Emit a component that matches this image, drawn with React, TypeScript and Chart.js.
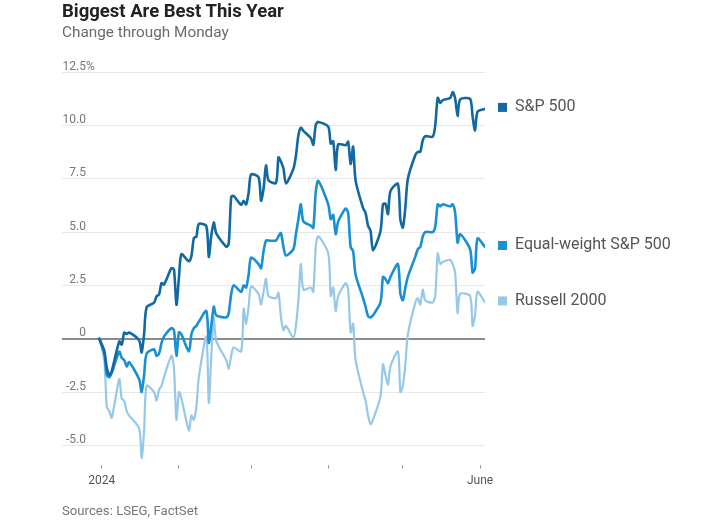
import { useEffect, useRef } from 'react';
import { Chart, registerables } from 'chart.js';

Chart.register(...registerables);

// ---- Data (percent change since year-end 2023) ----
const tradingDates = [
  '2023-12-31',
  '2024-01-02','2024-01-03','2024-01-04','2024-01-05','2024-01-08','2024-01-09','2024-01-10','2024-01-11','2024-01-12','2024-01-16','2024-01-17','2024-01-18','2024-01-19','2024-01-22','2024-01-23','2024-01-24','2024-01-25','2024-01-26','2024-01-29','2024-01-30','2024-01-31',
  '2024-02-01','2024-02-02','2024-02-05','2024-02-06','2024-02-07','2024-02-08','2024-02-09','2024-02-12','2024-02-13','2024-02-14','2024-02-15','2024-02-16','2024-02-20','2024-02-21','2024-02-22','2024-02-23','2024-02-26','2024-02-27','2024-02-28','2024-02-29',
  '2024-03-01','2024-03-04','2024-03-05','2024-03-06','2024-03-07','2024-03-08','2024-03-11','2024-03-12','2024-03-13','2024-03-14','2024-03-15','2024-03-18','2024-03-19','2024-03-20','2024-03-21','2024-03-22','2024-03-25','2024-03-26','2024-03-27','2024-03-28',
  '2024-04-01','2024-04-02','2024-04-03','2024-04-04','2024-04-05','2024-04-08','2024-04-09','2024-04-10','2024-04-11','2024-04-12','2024-04-15','2024-04-16','2024-04-17','2024-04-18','2024-04-19','2024-04-22','2024-04-23','2024-04-24','2024-04-25','2024-04-26','2024-04-29','2024-04-30',
  '2024-05-01','2024-05-02','2024-05-03','2024-05-06','2024-05-07','2024-05-08','2024-05-09','2024-05-10','2024-05-13','2024-05-14','2024-05-15','2024-05-16','2024-05-17','2024-05-20','2024-05-21','2024-05-22','2024-05-23','2024-05-24','2024-05-28','2024-05-29','2024-05-30','2024-05-31',
  '2024-06-03',
];

const sp500 = [
  0,
  -0.57,-1.36,-1.70,-1.52,-0.13,-0.28,0.29,0.22,0.29,-0.08,-0.64,0.23,1.47,1.69,1.99,2.07,2.61,2.54,3.31,3.25,1.59,
  2.86,3.96,3.63,3.87,4.72,4.78,5.38,5.28,3.84,4.84,5.45,4.94,4.31,4.44,6.65,6.69,6.28,6.46,6.29,6.84,
  7.70,7.57,6.47,7.02,8.12,7.42,7.30,8.50,8.29,7.98,7.28,7.96,8.57,9.53,9.89,9.74,9.40,9.09,10.03,10.16,
  9.94,9.14,9.26,7.91,9.11,9.07,9.23,8.19,9.00,7.41,6.12,5.90,5.29,5.06,4.14,5.05,6.30,6.33,5.84,6.92,7.26,5.57,
  5.21,6.17,7.50,8.61,8.76,8.76,9.31,9.49,9.47,10.00,11.29,11.05,11.18,11.28,11.56,11.26,10.44,11.21,11.24,10.42,9.76,10.64,
  10.77,
];

const equalWeight = [
  0,
  -0.7,-1.7,-1.8,-1.6,-0.6,-0.9,-1.0,-1.3,-1.1,-1.9,-2.5,-1.7,-0.7,-0.5,-0.8,-0.7,-0.2,0.1,0.5,0.4,-0.8,
  0.3,0.2,-0.6,0.2,0.5,0.6,0.8,1.3,-0.2,0.6,1.5,1.1,1.0,1.2,2.1,2.5,2.2,2.5,2.4,3.0,
  3.8,3.5,3.3,4.1,4.6,4.6,4.6,4.8,4.95,4.3,3.9,4.2,4.9,5.6,6.3,5.5,5.3,5.2,6.9,7.4,
  6.3,5.6,5.8,4.9,5.5,6.1,5.9,4.3,4.1,3.0,1.9,1.5,1.05,1.0,1.1,1.7,2.9,2.8,2.6,2.9,3.5,2.1,
  1.8,2.4,2.9,3.85,4.2,4.3,4.8,5.0,5.0,5.25,6.3,6.2,6.3,6.2,6.3,5.9,4.5,4.9,4.2,3.1,3.3,4.7,
  4.3,
];

const russell2000 = [
  0,
  -1.0,-3.2,-3.4,-3.7,-1.9,-2.8,-2.9,-3.4,-3.6,-4.2,-5.6,-4.3,-2.2,-2.5,-2.9,-2.4,-2.2,-1.8,-0.8,-1.4,-3.8,
  -2.5,-2.8,-4.3,-3.6,-3.8,-3.2,-1.8,0.1,-3.0,-0.8,1.0,-0.1,-1.0,-1.4,-0.8,-0.4,-0.6,1.4,0.7,1.5,
  2.45,2.1,1.6,2.2,2.8,2.0,1.9,2.15,1.0,0.4,0.6,0.05,0.6,1.8,3.5,2.3,2.4,2.2,4.3,4.8,
  4.0,2.0,2.4,1.3,2.0,2.6,2.3,0.3,0.7,-1.0,-2.5,-2.9,-3.6,-4.0,-3.8,-2.7,-1.2,-1.7,-2.15,-1.3,-0.6,-2.5,
  -2.2,-1.2,0.2,1.7,1.9,1.6,2.3,1.8,1.7,2.0,4.0,3.5,3.6,3.7,3.5,3.1,1.2,2.1,2.0,0.6,1.1,2.2,
  1.7,
];

const seriesNames = ['S&P 500', 'Equal-weight S&P 500', 'Russell 2000'];
const seriesValues = [sp500, equalWeight, russell2000];
const seriesColors = ['#1268a3', '#1a90d4', '#96c8ea'];

const yTickValues = [-5, -2.5, 0, 2.5, 5, 7.5, 10, 12.5];
const xTickDates = ['2024-01-01', '2024-02-01', '2024-03-01', '2024-04-01', '2024-05-01', '2024-06-01'];
const xTickLabels = ['2024', '', '', '', '', 'June'];

const FONT = 'Roboto, "Noto Sans", sans-serif';

function dayOf(date: string): number {
  const [y, m, d] = date.split('-').map(Number);
  return (Date.UTC(y, m - 1, d) - Date.UTC(2024, 0, 1)) / 86400000;
}

function fmtY(v: number): string {
  return v === 0 ? '0' : v.toFixed(1);
}

const yLabelPlugin = {
  id: 'yLabels',
  afterDraw(chart: any) {
    const { ctx, scales } = chart;
    const y = scales.y;
    ctx.save();
    ctx.font = `12px ${FONT}`;
    ctx.fillStyle = '#777';
    ctx.textAlign = 'left';
    ctx.textBaseline = 'alphabetic';
    const right = chart.chartArea.left + 24;
    y.ticks.forEach((t: any) => {
      const base = fmtY(t.value);
      const label = t.value === yTickValues[yTickValues.length - 1] ? base + '%' : base;
      const w = ctx.measureText(base).width;
      ctx.fillText(label, right - w, y.getPixelForValue(t.value) - 2.5);
    });
    ctx.restore();
  },
};

const endLegendPlugin = {
  id: 'endLegend',
  afterDatasetsDraw(chart: any) {
    const { ctx, scales } = chart;
    const y = scales.y;
    const x0 = chart.chartArea.right + 13;
    ctx.save();
    ctx.font = `16px ${FONT}`;
    ctx.textBaseline = 'middle';
    ctx.textAlign = 'left';
    chart.data.datasets.forEach((ds: any, i: number) => {
      const last = ds.data[ds.data.length - 1].y;
      const py = y.getPixelForValue(last) - 1.5;
      ctx.fillStyle = seriesColors[i];
      ctx.fillRect(x0, py - 4.5, 9, 9);
      ctx.fillStyle = '#555';
      ctx.fillText(seriesNames[i], x0 + 17, py);
    });
    ctx.restore();
  },
};

export default function App() {
  const ref = useRef<HTMLCanvasElement>(null);

  useEffect(() => {
    const canvas = ref.current;
    if (!canvas) return;
    Chart.defaults.font.family = FONT;
    const days = tradingDates.map(dayOf);
    const chart = new Chart(canvas, {
      type: 'line',
      data: {
        datasets: seriesValues.map((vals, i) => ({
          label: seriesNames[i],
          data: vals.map((v, j) => ({ x: days[j], y: v })),
          borderColor: seriesColors[i],
          backgroundColor: seriesColors[i],
          borderWidth: i === 2 ? 2.2 : 2.6,
          pointRadius: 0,
          tension: 0.25,
          borderJoinStyle: 'round',
          borderCapStyle: 'round',
          fill: false,
        })),
      },
      options: {
        animation: false,
        responsive: false,
        devicePixelRatio: 1,
        layout: { padding: { left: 62, right: 242, top: 72, bottom: 27 } },
        plugins: { legend: { display: false }, tooltip: { enabled: false } },
        scales: {
          x: {
            type: 'linear',
            min: -16,
            max: 154,
            afterBuildTicks: (s: any) => {
              s.ticks = xTickDates.map((d) => ({ value: dayOf(d) }));
            },
            ticks: {
              callback: (_v: any, i: number) => xTickLabels[i],
              color: '#555',
              font: { size: 12 },
              padding: 5,
              maxRotation: 0,
              autoSkip: false,
            },
            grid: { drawOnChartArea: false, drawTicks: true, tickLength: 4, color: '#999' },
            border: { display: false },
          },
          y: {
            min: -5.9,
            max: 12.5,
            afterBuildTicks: (s: any) => {
              s.ticks = yTickValues.map((v) => ({ value: v }));
            },
            ticks: { display: false },
            grid: {
              drawTicks: false,
              color: (c: any) => (c.tick && c.tick.value === 0 ? '#8c8c8c' : '#e8e8e8'),
              lineWidth: (c: any) => (c.tick && c.tick.value === 0 ? 2 : 1),
            },
            border: { display: false },
          },
        },
      } as any,
      plugins: [yLabelPlugin, endLegendPlugin],
    });
    return () => chart.destroy();
  }, []);

  return (
    <div style={{ position: 'absolute', left: 0, top: 0, width: 727, height: 520, background: '#fff', fontFamily: FONT }}>
      <canvas ref={ref} width={727} height={520} style={{ position: 'absolute', left: 0, top: 0 }} />
      <div style={{ position: 'absolute', left: 62, top: 2, fontSize: 18.5, fontWeight: 700, lineHeight: 1, color: '#222', whiteSpace: 'nowrap' }}>
        Biggest Are Best This Year
      </div>
      <div style={{ position: 'absolute', left: 62, top: 25, fontSize: 15.3, lineHeight: 1, color: '#6b6b6b', whiteSpace: 'nowrap' }}>
        Change through Monday
      </div>
      <div style={{ position: 'absolute', left: 62, top: 504, fontSize: 13.2, lineHeight: 1, color: '#777', whiteSpace: 'nowrap' }}>
        Sources: LSEG, FactSet
      </div>
    </div>
  );
}
